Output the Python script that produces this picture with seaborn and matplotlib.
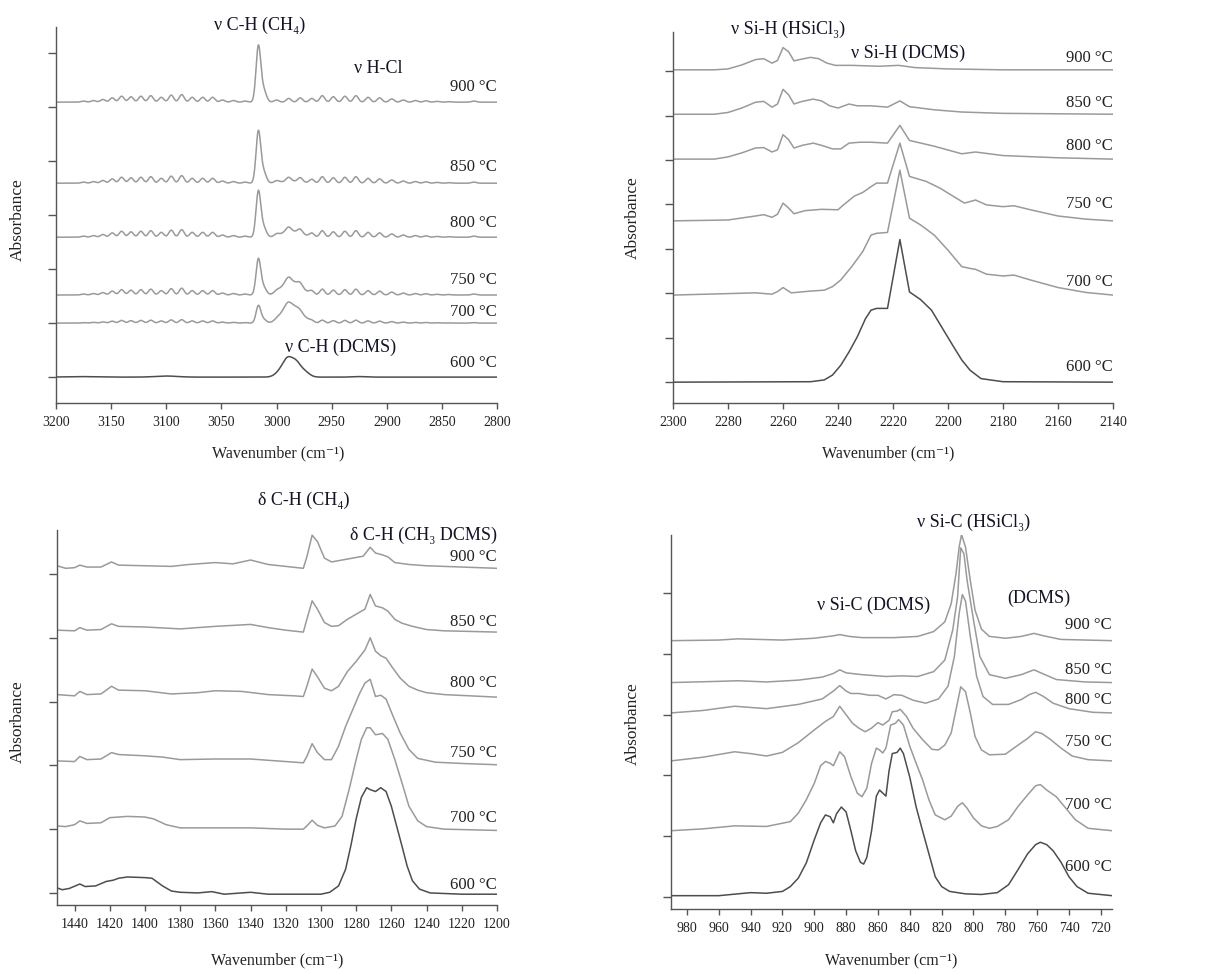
import numpy as np
import pandas as pd
import matplotlib
matplotlib.use('Agg')
import matplotlib.pyplot as plt
import seaborn as sns

TEMPS = ['600 °C', '700 °C', '750 °C', '800 °C', '850 °C', '900 °C']

# ---- top left: C-H stretch, built from a line list (centre, height, sigma)
CH4_PEAK = [(3016.5, 0.86, 2.1), (3012.0, 0.20, 2.6)]
CH4_HEIGHT = [0.0, 0.33, 0.68, 0.87, 0.98, 1.06]
DCMS_BAND = [(2995.0, 0.45, 5.0), (2989.5, 0.85, 4.0), (2982.5, 0.80, 4.0), (2975.0, 0.35, 4.5)]
DCMS_HEIGHT = [0.38, 0.36, 0.27, 0.12, 0.04, 0.0]
COMB_LINES = [3175, 3166, 3157.5, 3149, 3140.5, 3132, 3123, 3114, 3104.5, 3095.5,
              3086, 3076.5, 3067, 3058, 3049, 3039, 3028.5,
              3000, 2989, 2978.5, 2968, 2958.5, 2948.5, 2938, 2928, 2917, 2906.5,
              2895.5, 2885, 2874, 2864.5, 2854.5, 2844, 2821]
COMB_HEIGHTS = [0.02, 0.03, 0.05, 0.08, 0.11, 0.10, 0.11, 0.12, 0.09, 0.13,
                0.14, 0.09, 0.09, 0.09, 0.04, 0.03, 0.02,
                0.04, 0.07, 0.08, 0.07, 0.12, 0.10, 0.11, 0.12, 0.09, 0.08,
                0.06, 0.04, 0.03, 0.025, 0.015, 0.01, 0.02]
COMB_SCALE = [0.0, 0.45, 0.9, 1.0, 1.0, 1.0]
BG_600 = [(3180, 0.01, 12), (3100, 0.02, 10), (2925, 0.01, 6)]

# ---- top right: Si-H stretch (wavenumber, absorbance above baseline)
SIH_600 = [(2300, 0), (2250, 0.01), (2245, 0.05), (2242, 0.16), (2239, 0.38), (2236, 0.68), (2233, 1.02),
           (2230, 1.43), (2228, 1.62), (2226, 1.66), (2222, 1.66), (2217.5, 3.21), (2214, 2.03), (2210, 1.86),
           (2206, 1.62), (2202, 1.21), (2198, 0.8), (2195, 0.5), (2192, 0.27), (2188, 0.08), (2180, 0.01), (2140, 0)]
SIH_700 = [(2300, 0), (2270, 0.05), (2264, 0.02), (2262, 0.08), (2260, 0.17), (2257, 0.05), (2250, 0.09),
           (2245, 0.11), (2242, 0.19), (2239, 0.34), (2235, 0.64), (2231, 0.98), (2228, 1.35), (2226, 1.39),
           (2222, 1.41), (2217.5, 2.81), (2214, 1.73), (2210, 1.58), (2205, 1.35), (2200, 1.01), (2195, 0.64),
           (2192, 0.6), (2190, 0.58), (2186, 0.47), (2180, 0.43), (2176, 0.45), (2170, 0.34), (2160, 0.17),
           (2150, 0.06), (2140, 0)]
SIH_750 = [(2300, 0), (2280, 0.02), (2270, 0.11), (2267, 0.14), (2264, 0.08), (2262, 0.15), (2260, 0.4),
           (2258, 0.29), (2256, 0.16), (2252, 0.23), (2246, 0.26), (2240, 0.25), (2238, 0.36), (2234, 0.56),
           (2231, 0.64), (2228, 0.77), (2226, 0.85), (2222, 0.85), (2217.5, 1.75), (2214, 1.0), (2208, 0.89),
           (2203, 0.74), (2198, 0.55), (2194, 0.4), (2190, 0.47), (2186, 0.36), (2180, 0.32), (2176, 0.34),
           (2170, 0.25), (2160, 0.11), (2150, 0.04), (2140, 0)]
SIH_800 = [(2300, 0), (2285, 0), (2280, 0.05), (2275, 0.14), (2270, 0.25), (2267, 0.26), (2264, 0.16),
           (2262, 0.21), (2260, 0.55), (2258, 0.44), (2256, 0.25), (2253, 0.31), (2249, 0.36), (2246, 0.31),
           (2242, 0.23), (2239, 0.23), (2236, 0.36), (2232, 0.38), (2228, 0.38), (2222, 0.36), (2217.5, 0.76),
           (2214, 0.42), (2205, 0.29), (2195, 0.12), (2190, 0.16), (2180, 0.08), (2160, 0.03), (2140, 0)]
SIH_850 = [(2300, 0), (2285, 0), (2280, 0.04), (2275, 0.14), (2270, 0.27), (2267, 0.29), (2264, 0.16),
           (2262, 0.23), (2260, 0.56), (2258, 0.44), (2256, 0.23), (2253, 0.29), (2249, 0.34), (2246, 0.3),
           (2243, 0.19), (2240, 0.14), (2236, 0.23), (2233, 0.19), (2228, 0.19), (2222, 0.16), (2217.5, 0.3),
           (2214, 0.17), (2205, 0.1), (2195, 0.05), (2180, 0.02), (2140, 0)]
SIH_900 = [(2300, 0), (2285, 0), (2280, 0.02), (2275, 0.11), (2270, 0.23), (2267, 0.25), (2264, 0.15),
           (2262, 0.21), (2260, 0.5), (2258, 0.41), (2256, 0.2), (2254, 0.23), (2250, 0.28), (2247, 0.25),
           (2244, 0.15), (2241, 0.1), (2235, 0.1), (2225, 0.08), (2218, 0.1), (2212, 0.05), (2200, 0.02),
           (2180, 0), (2140, 0)]

# ---- bottom left: C-H deformation
CHB_600 = [(1450, 0.1), (1447, 0.07), (1443, 0.09), (1437, 0.16), (1434, 0.12), (1428, 0.13), (1422, 0.2),
           (1418, 0.22), (1415, 0.25), (1410, 0.27), (1400, 0.26), (1396, 0.25), (1390, 0.13), (1385, 0.05),
           (1380, 0.03), (1370, 0.02), (1362, 0.04), (1355, 0.0), (1340, 0.03), (1330, 0.0), (1300, 0.0),
           (1295, 0.03), (1290, 0.13), (1286, 0.39), (1283, 0.76), (1280, 1.18), (1277, 1.52), (1274, 1.67),
           (1272, 1.64), (1269, 1.61), (1266, 1.67), (1263, 1.61), (1260, 1.38), (1257, 1.07), (1254, 0.76),
           (1251, 0.44), (1248, 0.21), (1244, 0.08), (1238, 0.02), (1220, 0.0), (1200, 0.0)]
CHB_700 = [(1450, 0.07), (1445, 0.06), (1440, 0.09), (1437, 0.15), (1433, 0.11), (1425, 0.12), (1420, 0.2),
           (1410, 0.22), (1400, 0.21), (1395, 0.18), (1388, 0.09), (1380, 0.04), (1360, 0.04), (1340, 0.04),
           (1320, 0.02), (1310, 0.02), (1308, 0.07), (1305, 0.16), (1302, 0.08), (1298, 0.04), (1292, 0.07),
           (1288, 0.22), (1284, 0.64), (1280, 1.11), (1277, 1.43), (1274, 1.61), (1272, 1.61), (1269, 1.5),
           (1265, 1.52), (1262, 1.43), (1258, 1.11), (1254, 0.75), (1250, 0.38), (1245, 0.15), (1240, 0.06),
           (1230, 0.02), (1200, 0)]
CHB_750 = [(1450, 0.06), (1440, 0.05), (1437, 0.13), (1433, 0.08), (1425, 0.09), (1419, 0.19), (1415, 0.16),
           (1400, 0.14), (1390, 0.12), (1380, 0.08), (1360, 0.09), (1340, 0.09), (1320, 0.05), (1310, 0.03),
           (1308, 0.13), (1305, 0.33), (1302, 0.19), (1298, 0.08), (1294, 0.08), (1290, 0.29), (1286, 0.6),
           (1282, 0.86), (1278, 1.12), (1275, 1.28), (1272, 1.34), (1269, 1.07), (1266, 1.09), (1263, 1.03),
           (1259, 0.76), (1255, 0.5), (1250, 0.24), (1245, 0.1), (1235, 0.04), (1220, 0.02), (1200, 0)]
CHB_800 = [(1450, 0.04), (1440, 0.02), (1437, 0.09), (1433, 0.04), (1425, 0.05), (1419, 0.17), (1415, 0.11),
           (1400, 0.1), (1385, 0.05), (1370, 0.07), (1360, 0.1), (1345, 0.09), (1330, 0.04), (1315, 0.02),
           (1310, 0.01), (1308, 0.17), (1305, 0.44), (1302, 0.32), (1298, 0.14), (1294, 0.1), (1290, 0.17),
           (1285, 0.4), (1280, 0.56), (1275, 0.74), (1272, 0.93), (1269, 0.72), (1266, 0.65), (1263, 0.61),
           (1259, 0.45), (1255, 0.3), (1250, 0.17), (1245, 0.11), (1240, 0.07), (1230, 0.04), (1200, 0)]
CHB_850 = [(1450, 0.03), (1440, 0.02), (1437, 0.07), (1433, 0.03), (1425, 0.04), (1419, 0.13), (1415, 0.09),
           (1400, 0.08), (1380, 0.05), (1360, 0.09), (1340, 0.12), (1330, 0.07), (1320, 0.03), (1310, 0.0),
           (1308, 0.2), (1305, 0.49), (1302, 0.36), (1298, 0.15), (1294, 0.09), (1290, 0.1), (1285, 0.2),
           (1280, 0.28), (1275, 0.36), (1272, 0.59), (1269, 0.41), (1265, 0.38), (1262, 0.33), (1258, 0.2),
           (1254, 0.14), (1248, 0.09), (1240, 0.04), (1230, 0.02), (1200, 0)]
CHB_900 = [(1450, 0.04), (1445, 0.0), (1440, 0.01), (1437, 0.05), (1433, 0.02), (1425, 0.02), (1419, 0.1),
           (1415, 0.05), (1400, 0.04), (1385, 0.03), (1375, 0.06), (1360, 0.09), (1350, 0.07), (1340, 0.13),
           (1330, 0.06), (1320, 0.03), (1310, 0.0), (1308, 0.18), (1305, 0.52), (1302, 0.42), (1298, 0.16),
           (1294, 0.1), (1290, 0.12), (1282, 0.16), (1276, 0.19), (1272, 0.33), (1269, 0.24), (1265, 0.21),
           (1262, 0.18), (1258, 0.09), (1250, 0.06), (1240, 0.04), (1230, 0.03), (1200, 0)]

# ---- bottom right: Si-C stretch
SIC_600 = [(990, 0), (960, 0.0), (940, 0.05), (930, 0.04), (920, 0.07), (915, 0.15), (910, 0.29), (905, 0.54),
           (900, 0.92), (896, 1.2), (893, 1.33), (890, 1.3), (888, 1.2), (886, 1.35), (883, 1.46), (880, 1.38),
           (877, 1.07), (874, 0.74), (871, 0.55), (869, 0.52), (867, 0.63), (864, 1.07), (861, 1.64),
           (859, 1.74), (857, 1.69), (855, 1.64), (853, 2.06), (851, 2.34), (848, 2.36), (846, 2.43),
           (844, 2.34), (840, 1.95), (836, 1.46), (832, 1.07), (828, 0.69), (824, 0.31), (820, 0.15),
           (815, 0.07), (805, 0.03), (795, 0.02), (785, 0.05), (778, 0.18), (772, 0.43), (766, 0.69),
           (761, 0.84), (758, 0.88), (754, 0.84), (750, 0.74), (745, 0.55), (740, 0.31), (735, 0.15),
           (728, 0.04), (713, 0)]
SIC_700 = [(990, 0), (970, 0.03), (950, 0.08), (930, 0.07), (915, 0.15), (910, 0.29), (905, 0.51), (900, 0.78),
           (896, 1.07), (893, 1.14), (890, 1.11), (888, 1.07), (884, 1.3), (881, 1.22), (877, 0.89), (873, 0.62),
           (870, 0.56), (867, 0.7), (864, 1.11), (861, 1.36), (859, 1.33), (857, 1.28), (855, 1.36), (852, 1.74),
           (849, 1.77), (847, 1.83), (844, 1.74), (840, 1.39), (836, 1.11), (832, 0.84), (828, 0.51),
           (824, 0.26), (818, 0.18), (814, 0.24), (810, 0.4), (807, 0.46), (804, 0.37), (800, 0.21),
           (795, 0.08), (790, 0.04), (785, 0.07), (778, 0.18), (772, 0.4), (766, 0.59), (761, 0.74),
           (758, 0.76), (754, 0.67), (748, 0.56), (742, 0.37), (736, 0.18), (728, 0.04), (713, 0)]
SIC_750 = [(990, 0), (970, 0.06), (950, 0.15), (940, 0.12), (930, 0.08), (920, 0.14), (910, 0.3), (900, 0.51),
           (893, 0.65), (888, 0.73), (884, 0.9), (880, 0.76), (876, 0.62), (872, 0.54), (868, 0.48), (864, 0.54),
           (860, 0.63), (857, 0.59), (853, 0.67), (851, 0.81), (848, 0.82), (846, 0.85), (842, 0.73),
           (838, 0.54), (832, 0.35), (826, 0.19), (822, 0.18), (818, 0.26), (814, 0.46), (811, 0.84),
           (808, 1.22), (805, 1.14), (802, 0.79), (799, 0.4), (795, 0.18), (790, 0.1), (780, 0.11),
           (772, 0.26), (766, 0.37), (761, 0.48), (757, 0.45), (752, 0.36), (745, 0.21), (738, 0.08),
           (728, 0.02), (713, 0)]
SIC_800 = [(990, 0), (970, 0.04), (950, 0.11), (930, 0.07), (910, 0.14), (895, 0.23), (888, 0.36), (884, 0.45),
           (880, 0.36), (877, 0.32), (872, 0.32), (865, 0.29), (860, 0.29), (855, 0.23), (850, 0.3), (845, 0.29),
           (838, 0.21), (830, 0.16), (822, 0.23), (816, 0.44), (812, 0.93), (809, 1.64), (807, 1.95),
           (805, 1.84), (802, 1.26), (798, 0.6), (794, 0.27), (788, 0.14), (778, 0.14), (770, 0.22),
           (765, 0.3), (761, 0.34), (756, 0.27), (750, 0.16), (740, 0.07), (725, 0.01), (713, 0)]
SIC_850 = [(990, 0), (960, 0.02), (948, 0.03), (930, 0.01), (910, 0.04), (895, 0.09), (888, 0.15), (884, 0.21),
           (880, 0.16), (870, 0.13), (855, 0.1), (845, 0.11), (835, 0.1), (825, 0.18), (818, 0.37), (813, 0.87),
           (810, 1.41), (808, 2.22), (806, 2.12), (804, 1.68), (800, 1.03), (796, 0.43), (790, 0.13),
           (780, 0.07), (770, 0.13), (762, 0.21), (756, 0.14), (748, 0.05), (730, 0.01), (713, 0)]
SIC_900 = [(990, 0), (960, 0.01), (948, 0.03), (920, 0.01), (900, 0.04), (888, 0.08), (884, 0.1), (878, 0.07),
           (870, 0.05), (850, 0.05), (835, 0.07), (825, 0.15), (818, 0.31), (814, 0.61), (811, 1.1), (809, 1.54),
           (807.5, 1.75), (805, 1.54), (802, 0.99), (799, 0.5), (795, 0.19), (790, 0.07), (780, 0.04),
           (770, 0.07), (762, 0.12), (756, 0.08), (745, 0.02), (713, 0)]

# layout (data units)
OFFSET_CH = [0.0, 1.0, 1.52, 2.59, 3.59, 5.09]
LABEL_CH = [0.26, 1.20, 1.80, 2.85, 3.89, 5.37]
OFFSET_SIH = [0.0, 1.96, 3.63, 5.02, 6.03, 7.03]
LABEL_SIH = [0.34, 2.25, 4.01, 5.32, 6.28, 7.30]
OFFSET_CHB = [-0.02, 0.98, 2.01, 3.07, 4.09, 5.09]
LABEL_CHB = [0.13, 1.18, 2.19, 3.29, 4.25, 5.27]
OFFSET_SIC = [0.02, 1.09, 2.24, 3.03, 3.53, 4.22]
LABEL_SIC = [0.49, 1.51, 2.55, 3.24, 3.73, 4.47]

DARK = '#4d4d4d'
LIGHT = '#9a9a9a'


def bands(wn, peaks):
    out = np.zeros_like(wn)
    for c, h, s in peaks:
        out += h * np.exp(-(wn - c) ** 2 / (2 * s ** 2))
    return out


def ch_curves():
    wn = np.linspace(3200, 2800, 2001)
    ch4 = bands(wn, CH4_PEAK)
    ch4 /= ch4.max()
    dcms = bands(wn, DCMS_BAND)
    dcms /= dcms.max()
    comb = bands(wn, [(c, h, 2.2) for c, h in zip(COMB_LINES, COMB_HEIGHTS)])
    curves = []
    for i in range(len(TEMPS)):
        y = CH4_HEIGHT[i] * ch4 + DCMS_HEIGHT[i] * dcms + COMB_SCALE[i] * comb
        if i == 0:
            y = y + bands(wn, BG_600)
        curves.append(list(zip(wn, y)))
    return curves


sns.set_theme(style='ticks')
plt.rcParams['font.family'] = ['Liberation Serif', 'DejaVu Serif']
plt.rcParams['axes.edgecolor'] = '#555555'
plt.rcParams['axes.linewidth'] = 1.0
plt.rcParams['xtick.color'] = '#555555'
plt.rcParams['ytick.color'] = '#555555'
plt.rcParams['xtick.labelcolor'] = '#222222'
plt.rcParams['axes.labelcolor'] = '#222222'

fig = plt.figure(figsize=(12.12, 9.74), dpi=100)


def draw_panel(rect, curves, offsets, label_y, xlim, xticks, ylim, nyt, xlab_pos, ylab_pos, notes):
    ax = fig.add_axes(rect)
    for i, pts in enumerate(curves):
        df = pd.DataFrame(pts, columns=['wn', 'absorb'])
        df['absorb'] = df['absorb'] + offsets[i]
        sns.lineplot(data=df, x='wn', y='absorb', ax=ax, color=DARK if i == 0 else LIGHT,
                     lw=1.1, estimator=None, sort=False)
        ax.text(xlim[1], label_y[i], TEMPS[i], ha='right', va='center', fontsize=12, color='#222222')
    ax.set_xlim(xlim)
    ax.set_ylim(ylim)
    ax.set_xticks(xticks)
    ax.set_yticks(range(nyt))
    ax.set_yticklabels([])
    ax.tick_params(axis='x', direction='out', length=4, width=1.0, labelsize=10, pad=5)
    ax.tick_params(axis='y', direction='out', length=5.5, width=1.0)
    ax.set_xlabel('Wavenumber (cm⁻¹)', fontsize=11.5, va='center')
    ax.set_ylabel('Absorbance', fontsize=12.5, va='center')
    ax.xaxis.set_label_coords(*xlab_pos)
    ax.yaxis.set_label_coords(*ylab_pos)
    for x, y, s, ha in notes:
        ax.text(x, y, s, ha=ha, va='center', fontsize=13, color='#141428')
    sns.despine(ax=ax)
    return ax


draw_panel([0.0462, 0.5862, 0.3639, 0.3860], ch_curves(), OFFSET_CH, LABEL_CH,
           (3200, 2800), np.arange(3200, 2799, -50), (-0.48, 6.48), 7,
           (0.503, -0.133), (-0.086, 0.487),
           [(3015, 6.52, 'ν C-H (CH₄)', 'center'), (2908, 5.72, 'ν H-Cl', 'center'),
            (2942, 0.56, 'ν C-H (DCMS)', 'center')])

draw_panel([0.5553, 0.5862, 0.3630, 0.3809],
           [SIH_600, SIH_700, SIH_750, SIH_800, SIH_850, SIH_900], OFFSET_SIH, LABEL_SIH,
           (2300, 2140), np.arange(2300, 2139, -20), (-0.47, 7.88), 8,
           (0.49, -0.135), (-0.091, 0.5),
           [(2258, 7.93, 'ν Si-H (HSiCl₃)', 'center'), (2214.5, 7.39, 'ν Si-H (DCMS)', 'center')])

draw_panel([0.0470, 0.0708, 0.3630, 0.3850],
           [CHB_600, CHB_700, CHB_750, CHB_800, CHB_850, CHB_900], OFFSET_CHB, LABEL_CHB,
           (1450, 1200), np.arange(1440, 1199, -20), (-0.19, 5.69), 6,
           (0.5, -0.147), (-0.089, 0.488),
           [(1310, 6.16, 'δ C-H (CH₄)', 'center'), (1200, 5.61, 'δ C-H (CH₃ DCMS)', 'right')])

draw_panel([0.5536, 0.0667, 0.3639, 0.3840],
           [SIC_600, SIC_700, SIC_750, SIC_800, SIC_850, SIC_900], OFFSET_SIC, LABEL_SIC,
           (990, 713), np.arange(980, 719, -20), (-0.2, 5.96), 6,
           (0.5, -0.136), (-0.086, 0.497),
           [(800, 6.17, 'ν Si-C (HSiCl₃)', 'center'), (863, 4.8, 'ν Si-C (DCMS)', 'center'),
            (759, 4.92, '(DCMS)', 'center')])

fig.savefig('out.png', dpi=100)
